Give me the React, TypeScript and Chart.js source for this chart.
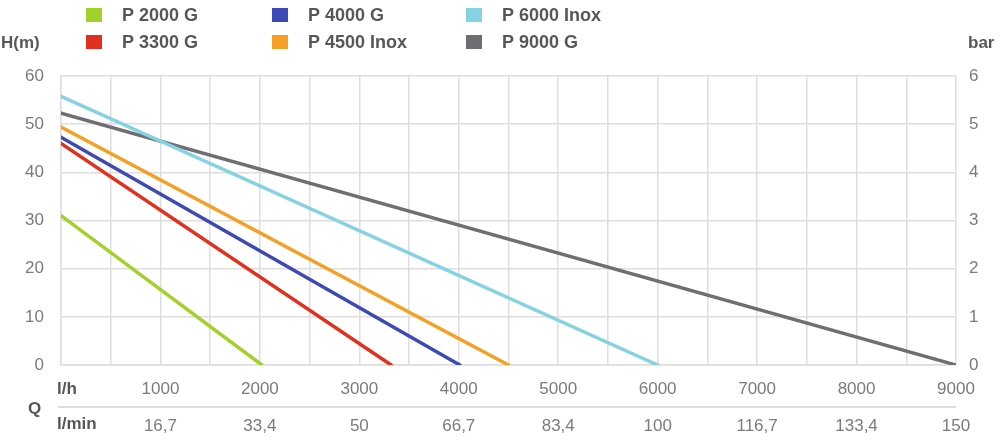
import React, { useEffect, useRef } from 'react';
import { Chart, registerables } from 'chart.js';

Chart.register(...registerables);

// ---- data ----
const SERIES_NAMES = ['P 2000 G', 'P 3300 G', 'P 4000 G', 'P 4500 Inox', 'P 6000 Inox', 'P 9000 G'];
const SERIES_COLORS = ['#a3d12c', '#e2301f', '#3d4ab5', '#f5a025', '#85d2e2', '#6f6f73'];
// head (m) at zero flow, and max flow (l/h) at zero head
const HEAD_AT_ZERO_FLOW = [31, 46, 47.3, 49.4, 55.8, 52.3];
const MAX_FLOW_LH = [2020, 3320, 4010, 4500, 6000, 9000];
const FLOW_LMIN_LABELS = ['16,7', '33,4', '50', '66,7', '83,4', '100', '116,7', '133,4', '150'];
const FLOW_MAX = 9000;
const HEAD_MAX = 60;
const BAR_MAX = 6;

const FONT = '"Liberation Sans", Arial, Helvetica, sans-serif';
const TICK_COLOR = '#7b7b7b';
const LABEL_COLOR = '#575757';
const GRID_COLOR = '#dedede';

const LEGEND_COL_X = [86, 272, 466];
const LEGEND_ROW_Y = [15, 42];

const decorPlugin = {
  id: 'decor',
  afterDraw(chart: any) {
    const { ctx, chartArea, scales } = chart;
    ctx.save();
    // legend, column-wise
    chart.data.datasets.forEach((ds: any, i: number) => {
      const col = Math.floor(i / 2);
      const row = i % 2;
      const x = LEGEND_COL_X[col];
      const y = LEGEND_ROW_Y[row];
      ctx.fillStyle = ds.borderColor;
      ctx.fillRect(x, y - 7, 16, 14);
      ctx.fillStyle = LABEL_COLOR;
      ctx.font = `bold 18px ${FONT}`;
      ctx.textAlign = 'left';
      ctx.textBaseline = 'middle';
      ctx.fillText(ds.label, x + 36, y + 1);
    });
    // axis unit labels
    ctx.font = `bold 17px ${FONT}`;
    ctx.fillStyle = LABEL_COLOR;
    ctx.textBaseline = 'middle';
    ctx.textAlign = 'left';
    ctx.fillText('H(m)', 1, chartArea.top - 33);
    ctx.fillText('bar', chartArea.right + 12, chartArea.top - 33);
    ctx.fillText('l/h', chartArea.left - 4, scales.x.top + 24);
    ctx.fillText('l/min', chartArea.left - 4, scales.x2.top + 17);
    ctx.fillText('Q', 28, scales.x2.top + 2);
    // separator line between l/h and l/min
    ctx.strokeStyle = '#d0d0d0';
    ctx.lineWidth = 1.5;
    ctx.beginPath();
    ctx.moveTo(chartArea.left - 3, scales.x2.top);
    ctx.lineTo(chartArea.right, scales.x2.top);
    ctx.stroke();
    ctx.restore();
  },
};

export default function App() {
  const ref = useRef<HTMLCanvasElement | null>(null);

  useEffect(() => {
    document.body.style.margin = '0';
    if (!ref.current) return;
    const datasets = SERIES_NAMES.map((name, i) => ({
      label: name,
      data: [
        { x: 0, y: HEAD_AT_ZERO_FLOW[i] },
        { x: MAX_FLOW_LH[i], y: 0 },
      ],
      borderColor: SERIES_COLORS[i],
      backgroundColor: SERIES_COLORS[i],
      borderWidth: 3.5,
      borderCapStyle: 'round' as const,
      pointRadius: 0,
      tension: 0,
      fill: false,
    }));

    const chart = new Chart(ref.current, {
      type: 'line',
      data: { datasets },
      plugins: [decorPlugin],
      options: {
        animation: false,
        responsive: true,
        maintainAspectRatio: false,
        layout: { padding: { top: 76, left: 0, right: 0, bottom: 0 } },
        plugins: { legend: { display: false }, tooltip: { enabled: false } },
        scales: {
          x: {
            type: 'linear',
            position: 'bottom',
            weight: 0,
            min: 0,
            max: FLOW_MAX,
            afterFit: (s: any) => { s.height = 42; },
            grid: { color: GRID_COLOR, lineWidth: 1.5, drawTicks: false },
            border: { color: GRID_COLOR, width: 1.5 },
            ticks: {
              stepSize: 500,
              autoSkip: false,
              maxRotation: 0,
              padding: 14,
              color: TICK_COLOR,
              font: { family: FONT, size: 17 },
              callback: (v: any) => (v > 0 && v % 1000 === 0 ? String(v) : ''),
            },
          },
          x2: {
            type: 'linear',
            position: 'bottom',
            weight: 1,
            min: 0,
            max: FLOW_MAX,
            afterFit: (s: any) => { s.height = 33; },
            grid: { display: false, drawTicks: false },
            border: { display: false },
            ticks: {
              stepSize: 1000,
              autoSkip: false,
              maxRotation: 0,
              padding: 9,
              color: TICK_COLOR,
              font: { family: FONT, size: 17 },
              callback: (v: any) => (v > 0 ? FLOW_LMIN_LABELS[Math.round(v / 1000) - 1] : ''),
            },
          },
          y: {
            type: 'linear',
            position: 'left',
            min: 0,
            max: HEAD_MAX,
            afterFit: (s: any) => { s.width = 61; },
            grid: { color: GRID_COLOR, lineWidth: 1.5, drawTicks: false },
            border: { color: GRID_COLOR, width: 1.5 },
            ticks: {
              stepSize: 10,
              padding: 17,
              color: TICK_COLOR,
              font: { family: FONT, size: 17 },
            },
          },
          y2: {
            type: 'linear',
            position: 'right',
            min: 0,
            max: BAR_MAX,
            afterFit: (s: any) => { s.width = 44; },
            grid: { display: false, drawTicks: false },
            border: { display: false },
            ticks: {
              stepSize: 1,
              padding: 13,
              color: TICK_COLOR,
              font: { family: FONT, size: 17 },
            },
          },
        },
      },
    });
    return () => chart.destroy();
  }, []);

  return (
    <div style={{ position: 'relative', width: 1000, height: 440 }}>
      <canvas ref={ref} />
    </div>
  );
}
